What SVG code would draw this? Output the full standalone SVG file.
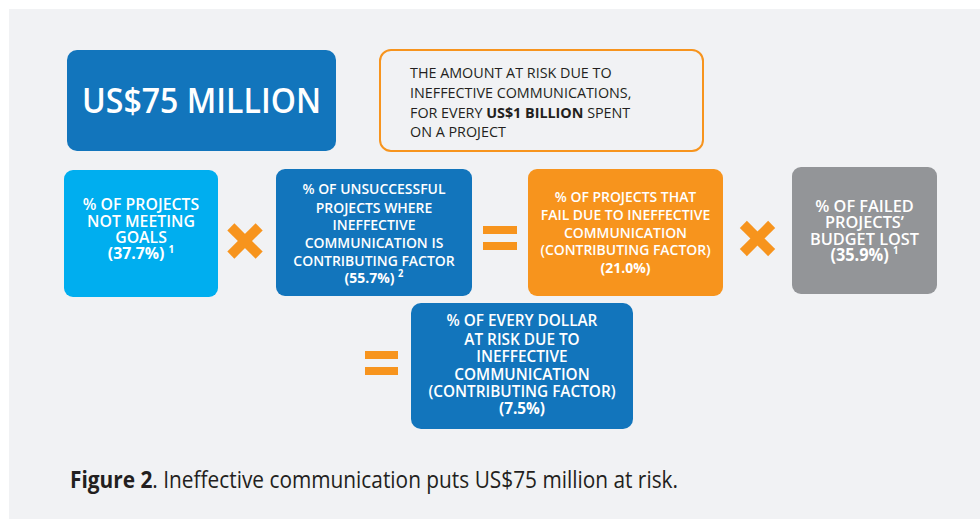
<svg xmlns="http://www.w3.org/2000/svg" width="980" height="519" viewBox="0 0 980 519">
<style>
.bg{fill:#F1F2F4}
.dk{fill:#1275BC}
.lb{fill:#00AEEF}
.or{fill:#F7941D}
.gr{fill:#939598}
.op{fill:#F7941D}
.wt{font-family:"Open Sans","Liberation Sans",sans-serif;font-weight:600;fill:#FFFFFF;text-anchor:middle}
.val{font-weight:700}
.dt{font-family:"Open Sans","Liberation Sans",sans-serif;font-weight:400;fill:#231F20;font-size:14.5px}
.cap{font-family:"Open Sans","Liberation Sans",sans-serif;fill:#231F20;font-size:24px}
</style>
<rect class="bg" x="9" y="9" width="971" height="510"/>

<g id="big-amount">
<rect class="dk" x="67" y="50" width="269" height="101" rx="10"/>
<text x="201.5" y="113" class="wt" font-weight="700" font-size="34" textLength="239" lengthAdjust="spacingAndGlyphs">US$75 MILLION</text>
</g>

<g id="amount-note">
<rect x="380" y="50" width="323" height="101" rx="11" fill="#F1F2F4" stroke="#F7941D" stroke-width="2"/>
<g transform="translate(410,0) scale(0.99,1)">
<text class="dt" x="0" y="78">THE AMOUNT AT RISK DUE TO</text>
<text class="dt" x="0" y="98">INEFFECTIVE COMMUNICATIONS,</text>
<text class="dt" x="0" y="118">FOR EVERY <tspan font-weight="700">US$1 BILLION</tspan> SPENT</text>
<text class="dt" x="0" y="137">ON A PROJECT</text>
</g>
</g>

<g id="projects-not-meeting-goals">
<rect class="lb" x="64" y="170" width="154" height="127" rx="9"/>
<g transform="translate(141,0) scale(0.99,1)" class="wt" font-size="16">
<text x="0" y="210">% OF PROJECTS</text>
<text x="0" y="227">NOT MEETING</text>
<text x="0" y="243">GOALS</text>
<text x="0" y="259" class="val">(37.7%) <tspan font-size="10" dy="-6">1</tspan></text>
</g>
</g>

<g id="unsuccessful-projects">
<rect class="dk" x="276" y="169" width="196" height="127" rx="9"/>
<g transform="translate(374,0) scale(0.93,1)" class="wt" font-size="15">
<text x="0" y="194">% OF UNSUCCESSFUL</text>
<text x="0" y="213">PROJECTS WHERE</text>
<text x="0" y="230">INEFFECTIVE</text>
<text x="0" y="248">COMMUNICATION IS</text>
<text x="0" y="266">CONTRIBUTING FACTOR</text>
<text x="0" y="283" class="val">(55.7%) <tspan font-size="10" dy="-6">2</tspan></text>
</g>
</g>

<g id="projects-fail">
<rect class="or" x="528" y="169" width="195" height="127" rx="9"/>
<g transform="translate(625.5,0) scale(0.93,1)" class="wt" font-size="15">
<text x="0" y="202">% OF PROJECTS THAT</text>
<text x="0" y="220">FAIL DUE TO INEFFECTIVE</text>
<text x="0" y="238">COMMUNICATION</text>
<text x="0" y="255">(CONTRIBUTING FACTOR)</text>
<text x="0" y="273" class="val">(21.0%)</text>
</g>
</g>

<g id="budget-lost">
<rect class="gr" x="792" y="167" width="145" height="127" rx="9"/>
<g transform="translate(864.5,0) scale(0.96,1)" class="wt" font-size="17">
<text x="0" y="212">% OF FAILED</text>
<text x="0" y="228">PROJECTS’</text>
<text x="0" y="245">BUDGET LOST</text>
<text x="0" y="261" class="val">(35.9%) <tspan font-size="10" dy="-7">1</tspan></text>
</g>
</g>

<g id="dollar-at-risk">
<rect class="dk" x="411" y="303" width="222" height="126" rx="10"/>
<g transform="translate(522,0) scale(0.99,1)" class="wt" font-size="15.5">
<text x="0" y="326">% OF EVERY DOLLAR</text>
<text x="0" y="345">AT RISK DUE TO</text>
<text x="0" y="362">INEFFECTIVE</text>
<text x="0" y="380">COMMUNICATION</text>
<text x="0" y="397">(CONTRIBUTING FACTOR)</text>
<text x="0" y="414" class="val">(7.5%)</text>
</g>
</g>

<g id="connectors">
<g transform="translate(245,241) rotate(45)"><rect class="op" x="-20" y="-5" width="40" height="10"/><rect class="op" x="-5" y="-20" width="10" height="40"/></g>
<rect class="op" x="483" y="226" width="34" height="8"/>
<rect class="op" x="483" y="242" width="34" height="8"/>
<g transform="translate(757.5,238.5) rotate(45)"><rect class="op" x="-20" y="-5" width="40" height="10"/><rect class="op" x="-5" y="-20" width="10" height="40"/></g>
<rect class="op" x="365" y="351" width="33" height="8"/>
<rect class="op" x="365" y="367" width="33" height="8"/>
</g>

<text class="cap" x="70" y="488" textLength="608" lengthAdjust="spacingAndGlyphs"><tspan font-weight="700">Figure 2</tspan>. Ineffective communication puts US$75 million at risk.</text>
</svg>
